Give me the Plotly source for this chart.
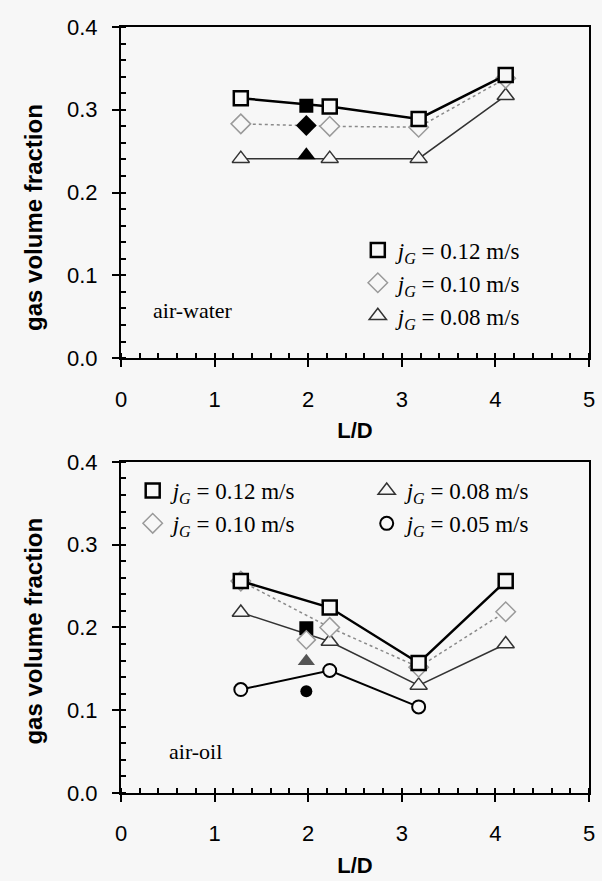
import plotly.graph_objects as go

# ---------------- data ----------------
LD = [1.28, 2.23, 3.18, 4.11]
LD_CIRC = [1.28, 2.23, 3.18]
LD_FILLED = [1.98]

# air-water
water_012 = [0.314, 0.304, 0.289, 0.342]
water_010 = [0.283, 0.280, 0.279, 0.338]
water_008 = [0.241, 0.241, 0.241, 0.317]
water_012_filled = [0.305]
water_010_filled = [0.281]
water_008_filled = [0.245]

# air-oil
oil_012 = [0.256, 0.224, 0.157, 0.256]
oil_010 = [0.256, 0.200, 0.152, 0.219]
oil_008 = [0.218, 0.183, 0.130, 0.180]
oil_005 = [0.125, 0.148, 0.104]
oil_012_filled = [0.199]
oil_010_filled = [0.185]
oil_008_filled = [0.159]
oil_005_filled = [0.123]

X_TICKS = [0, 1, 2, 3, 4, 5]
Y_TICKS = [0.0, 0.1, 0.2, 0.3, 0.4]

NAMES = {
    "012": "<i>j</i><sub><i>G</i></sub> = 0.12 m/s",
    "010": "<i>j</i><sub><i>G</i></sub> = 0.10 m/s",
    "008": "<i>j</i><sub><i>G</i></sub> = 0.08 m/s",
    "005": "<i>j</i><sub><i>G</i></sub> = 0.05 m/s",
}
Y_TITLE = "<b>gas volume fraction</b>"

BG = "#f7f7f7"
SERIF = "Liberation Serif"
SANS = "Liberation Sans"

fig = go.Figure()


def add_series(x, y, xa, ya, line, marker, name, legend, group):
    fig.add_trace(go.Scatter(x=x, y=y, mode="lines", line=line, xaxis=xa, yaxis=ya,
                             showlegend=False, hoverinfo="skip"))
    fig.add_trace(go.Scatter(x=x, y=y, mode="markers", marker=marker, name=name,
                             legend=legend, legendgroup=group, xaxis=xa, yaxis=ya))


def add_filled(x, y, xa, ya, marker):
    fig.add_trace(go.Scatter(x=x, y=y, mode="markers", marker=marker, xaxis=xa, yaxis=ya,
                             showlegend=False))


sq_style = dict(symbol="square", size=14, color=BG, line=dict(color="black", width=2.5))
di_style = dict(symbol="diamond", size=15, color=BG, line=dict(color="#9a9a9a", width=1.5))
tr_style = dict(symbol="triangle-up", size=15, color=BG, line=dict(color="#333333", width=1.5))
ci_style = dict(symbol="circle", size=13, color=BG, line=dict(color="black", width=2))

line_sq = dict(color="black", width=2.5)
line_di = dict(color="#8a8a8a", width=1.5, dash="dot")
line_tr = dict(color="#333333", width=1.5)
line_ci = dict(color="black", width=2)

# ---- top: air-water ----
add_series(LD, water_008, "x", "y", line_tr, tr_style, NAMES["008"], "legend", "w3")
add_series(LD, water_010, "x", "y", line_di, di_style, NAMES["010"], "legend", "w2")
add_series(LD, water_012, "x", "y", line_sq, sq_style, NAMES["012"], "legend", "w1")
add_filled(LD_FILLED, water_012_filled, "x", "y", dict(symbol="square", size=14, color="black"))
add_filled(LD_FILLED, water_010_filled, "x", "y", dict(symbol="diamond", size=16, color="black"))
add_filled(LD_FILLED, water_008_filled, "x", "y", dict(symbol="triangle-up", size=16, color="black"))

# ---- bottom: air-oil ----
add_series(LD_CIRC, oil_005, "x2", "y2", line_ci, ci_style, NAMES["005"], "legend3", "o4")
add_series(LD, oil_008, "x2", "y2", line_tr, tr_style, NAMES["008"], "legend3", "o3")
add_series(LD, oil_010, "x2", "y2", line_di, di_style, NAMES["010"], "legend2", "o2")
add_series(LD, oil_012, "x2", "y2", line_sq, sq_style, NAMES["012"], "legend2", "o1")
add_filled(LD_FILLED, oil_012_filled, "x2", "y2", dict(symbol="square", size=14, color="black"))
add_filled(LD_FILLED, oil_010_filled, "x2", "y2", dict(symbol="diamond", size=14, color=BG,
                                                      line=dict(color="#9a9a9a", width=1.5)))
add_filled(LD_FILLED, oil_008_filled, "x2", "y2", dict(symbol="triangle-up", size=15, color="#555555"))
add_filled(LD_FILLED, oil_005_filled, "x2", "y2", dict(symbol="circle", size=12, color="black"))

xaxis_common = dict(
    range=[0, 5], tickvals=X_TICKS, ticktext=[str(v) for v in X_TICKS],
    ticks="outside", ticklen=7, tickwidth=2, tickcolor="black",
    showline=True, linewidth=2, linecolor="black", mirror=True,
    showgrid=False, zeroline=False,
    minor=dict(ticks="inside", ticklen=5, tickwidth=1.5, tickcolor="black", dtick=0.2, showgrid=False),
    tickfont=dict(family=SANS, size=22, color="black"),
    ticklabelstandoff=13,
    title=dict(text="<b>L/D</b>", font=dict(family=SANS, size=22, color="black"), standoff=12),
    domain=[0, 1],
)
yaxis_common = dict(
    range=[0, 0.4], tickvals=Y_TICKS, tickformat=".1f",
    ticks="outside", ticklen=7, tickwidth=2, tickcolor="black",
    showline=True, linewidth=2, linecolor="black", mirror=True,
    showgrid=False, zeroline=False,
    minor=dict(ticks="inside", ticklen=5, tickwidth=1.5, tickcolor="black", dtick=0.02, showgrid=False),
    tickfont=dict(family=SANS, size=22, color="black"),
    ticklabelstandoff=10,
)

legend_common = dict(bgcolor="rgba(0,0,0,0)", font=dict(family=SERIF, size=23, color="black"),
                     yanchor="top", xanchor="left", traceorder="reversed", itemclick=False)

ytitle_font = dict(family=SANS, size=24, color="black")

fig.update_layout(
    width=602, height=881,
    margin=dict(l=121, r=7, t=27, b=86),
    paper_bgcolor=BG, plot_bgcolor=BG,
    xaxis=dict(**xaxis_common, anchor="y"),
    yaxis=dict(**yaxis_common, domain=[0.5677, 1.0], anchor="x"),
    xaxis2=dict(**xaxis_common, anchor="y2"),
    yaxis2=dict(**yaxis_common, domain=[0.0, 0.4323], anchor="x2"),
    legend=dict(**legend_common, x=0.506, y=0.737, tracegroupgap=0),
    legend2=dict(**legend_common, x=0.025, y=0.423, tracegroupgap=5),
    legend3=dict(**legend_common, x=0.525, y=0.423, tracegroupgap=5),
    annotations=[
        dict(text="air-water", x=0.77, y=0.057, xref="x", yref="y", showarrow=False,
             font=dict(family=SERIF, size=22, color="black")),
        dict(text="air-oil", x=0.80, y=0.050, xref="x2", yref="y2", showarrow=False,
             font=dict(family=SERIF, size=22, color="black")),
        dict(text=Y_TITLE, textangle=-90, x=-0.186, y=0.752, xref="paper", yref="paper",
             xanchor="center", yanchor="middle", showarrow=False, font=ytitle_font),
        dict(text=Y_TITLE, textangle=-90, x=-0.186, y=0.212, xref="paper", yref="paper",
             xanchor="center", yanchor="middle", showarrow=False, font=ytitle_font),
    ],
)

fig.write_html("out.html")
